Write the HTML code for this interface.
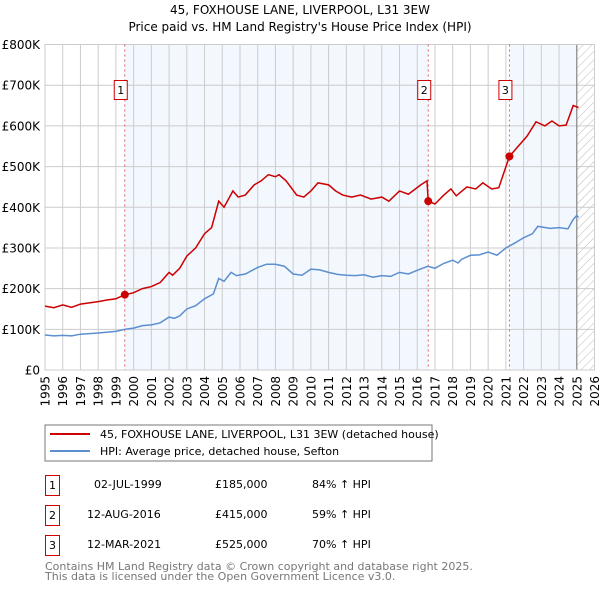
<!DOCTYPE html>
<html><head><meta charset="utf-8"><style>
body{margin:0;background:#fff;font-family:"DejaVu Sans","Liberation Sans",sans-serif}
svg text{font-family:"DejaVu Sans","Liberation Sans",sans-serif}
</style></head><body>
<svg id="c" width="600" height="590" xmlns="http://www.w3.org/2000/svg">
<defs><pattern id="hatch" width="6" height="6" patternUnits="userSpaceOnUse" patternTransform="rotate(45)"><line x1="0" y1="0" x2="0" y2="6" stroke="#bbb" stroke-width="1"/></pattern></defs>
<text x="300" y="14" text-anchor="middle" font-size="12">45, FOXHOUSE LANE, LIVERPOOL, L31 3EW</text>
<text x="300" y="31" text-anchor="middle" font-size="12">Price paid vs. HM Land Registry's House Price Index (HPI)</text>
<g id="plot"></g>
<rect x="45" y="425" width="387" height="36" fill="#fff" stroke="#777"/>
<line x1="50" y1="434" x2="90" y2="434" stroke="#cc0000" stroke-width="2"/>
<text x="100" y="438" font-size="11">45, FOXHOUSE LANE, LIVERPOOL, L31 3EW (detached house)</text>
<line x1="50" y1="451" x2="90" y2="451" stroke="#5b8fd0" stroke-width="2"/>
<text x="100" y="455" font-size="11">HPI: Average price, detached house, Sefton</text>
<g font-size="11">
<rect x="45.5" y="475.5" width="14" height="20" fill="#fff" stroke="#cc0000"/><text x="52.5" y="489" text-anchor="middle">1</text>
<text x="94" y="488">02-JUL-1999</text><text x="215" y="488">£185,000</text><text x="312" y="488">84% ↑ HPI</text>
<rect x="45.5" y="505.5" width="14" height="20" fill="#fff" stroke="#cc0000"/><text x="52.5" y="519" text-anchor="middle">2</text>
<text x="87" y="518">12-AUG-2016</text><text x="215" y="518">£415,000</text><text x="312" y="518">59% ↑ HPI</text>
<rect x="45.5" y="535.5" width="14" height="20" fill="#fff" stroke="#cc0000"/><text x="52.5" y="549" text-anchor="middle">3</text>
<text x="87" y="548">12-MAR-2021</text><text x="215" y="548">£525,000</text><text x="312" y="548">70% ↑ HPI</text>
</g>
<text x="45" y="570" font-size="11" fill="#777">Contains HM Land Registry data © Crown copyright and database right 2025.</text>
<text x="45" y="580" font-size="11" fill="#777">This data is licensed under the Open Government Licence v3.0.</text>
</svg>
<script>
const yTicks=[0,100,200,300,400,500,600,700,800];
const yTickLabels=["£0","£100K","£200K","£300K","£400K","£500K","£600K","£700K","£800K"];
const xYears=[1995,1996,1997,1998,1999,2000,2001,2002,2003,2004,2005,2006,2007,2008,2009,2010,2011,2012,2013,2014,2015,2016,2017,2018,2019,2020,2021,2022,2023,2024,2025,2026];
const saleDates=[1999.5,2016.62,2021.2];
const salePrices=[185,415,525];
const saleLabels=["1","2","3"];
const hpiT=[1995,1995.5,1996,1996.5,1997,1998,1999,1999.5,2000,2000.5,2001,2001.5,2002,2002.3,2002.6,2003,2003.5,2004,2004.5,2004.8,2005.1,2005.5,2005.8,2006.3,2007,2007.5,2008,2008.5,2009,2009.5,2010,2010.5,2011,2011.5,2012,2012.5,2013,2013.5,2014,2014.5,2015,2015.5,2016,2016.6,2017,2017.5,2018,2018.3,2018.5,2019,2019.5,2020,2020.5,2021,2021.5,2022,2022.5,2022.8,2023.5,2024,2024.5,2024.8,2025,2025.1];
const hpiV=[86,84,85,84,88,91,95,100,103,109,111,116,130,127,133,150,158,175,187,225,218,240,232,236,252,260,260,255,236,233,248,246,240,235,233,232,234,228,232,230,240,236,245,255,250,262,270,263,272,282,283,290,282,300,312,325,335,353,348,350,347,370,380,375];
const priceT=[1995,1995.5,1996,1996.5,1997,1998,1998.5,1999,1999.5,2000,2000.5,2001,2001.5,2002,2002.2,2002.6,2003,2003.5,2004,2004.4,2004.8,2005.1,2005.6,2005.9,2006.3,2006.8,2007.2,2007.6,2008,2008.2,2008.6,2009.2,2009.6,2010,2010.4,2011,2011.4,2011.8,2012.3,2012.8,2013.4,2014,2014.4,2015,2015.5,2016.2,2016.55,2016.62,2017,2017.5,2017.9,2018.2,2018.8,2019.3,2019.7,2020.2,2020.6,2021.2,2021.6,2022.2,2022.7,2023.2,2023.6,2024,2024.4,2024.8,2025.1];
const priceV=[157,153,160,154,162,168,172,175,185,190,200,205,215,240,233,250,280,300,335,350,415,400,440,425,430,455,465,480,475,480,465,430,425,440,460,455,440,430,425,430,420,425,415,440,432,455,465,415,408,430,445,428,450,445,460,445,448,525,545,575,610,600,612,600,602,650,645];
const X0=45,X1=594.5,Y0=370,Y1=44.5;
const x=t=>X0+(t-1995)/(2026-1995)*(X1-X0);
const y=v=>Y0-v/800*(Y0-Y1);
const NS="http://www.w3.org/2000/svg";
const g=document.getElementById('plot');
function mk(tag,attrs,parent){const e=document.createElementNS(NS,tag);for(const k in attrs)e.setAttribute(k,attrs[k]);(parent||g).appendChild(e);return e;}
let e;
e=mk('rect',{x:x(saleDates[0]),y:Y1,width:x(saleDates[1])-x(saleDates[0]),height:Y0-Y1,fill:'#eef3fd',opacity:0.7});


e=mk('rect',{x:x(saleDates[2]),y:Y1,width:x(2025)-x(saleDates[2]),height:Y0-Y1,fill:'#eef3fd',opacity:0.7});


e=mk('rect',{x:x(2025),y:Y1,width:X1-x(2025),height:Y0-Y1,fill:'url(#hatch)'});


yTicks.forEach((v,i)=>{
 e=mk('line',{x1:X0,x2:X1,y1:y(v),y2:y(v),stroke:'#ccc','stroke-width':1});
 
 
 e=mk('text',{x:40,y:y(v)+4.5,'text-anchor':'end','font-size':12});
 e.textContent=yTickLabels[i];
 
 
});
xYears.forEach(t=>{
 e=mk('line',{x1:x(t),x2:x(t),y1:Y1,y2:Y0,stroke:'#ccc','stroke-width':1});
 
 
 e=mk('text',{x:0,y:0,'text-anchor':'end','font-size':12,transform:`translate(${x(t)+4.5},376) rotate(-90)`});
 e.textContent=t;
 
 
});
e=mk('line',{x1:x(2025),x2:x(2025),y1:Y1,y2:Y0,stroke:'#888','stroke-width':1.2});


e=mk('rect',{x:X0,y:Y1,width:X1-X0,height:Y0-Y1,fill:'none',stroke:'#ccc'});


saleDates.forEach((t,i)=>{
 e=mk('line',{x1:x(t),x2:x(t),y1:Y1,y2:Y0,stroke:'#e06060','stroke-width':1,'stroke-dasharray':'2,3'});
 
 
 e=mk('rect',{x:x(t)-10.5,y:80.5,width:13,height:19,fill:'#fff',stroke:'#cc0000'});
 
 
 e=mk('text',{x:x(t)-4,y:94,'text-anchor':'middle','font-size':11});
 e.textContent=saleLabels[i];
 
 
});
e=mk('polyline',{points:hpiT.map((t,i)=>x(t)+','+y(hpiV[i])).join(' '),fill:'none',stroke:'#5b8fd0','stroke-width':1.5});


e=mk('polyline',{points:priceT.map((t,i)=>x(t)+','+y(priceV[i])).join(' '),fill:'none',stroke:'#cc0000','stroke-width':1.5});


saleDates.forEach((t,i)=>{
 e=mk('circle',{cx:x(t),cy:y(salePrices[i]),r:4,fill:'#cc0000'});
 
 
});
</script>
</body></html>
